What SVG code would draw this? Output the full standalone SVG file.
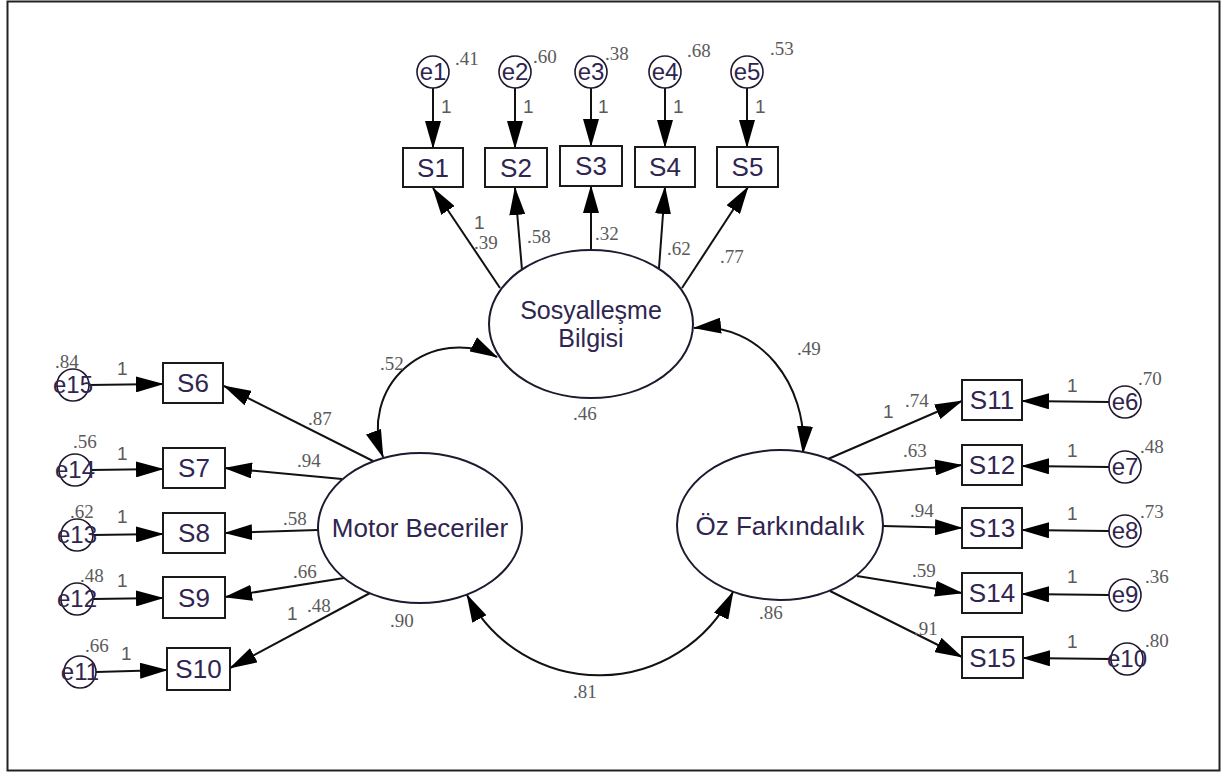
<svg xmlns="http://www.w3.org/2000/svg" width="1226" height="776" viewBox="0 0 1226 776">
<style>
.frame{fill:#fff;stroke:#222;stroke-width:2}
.box{fill:#fff;stroke:#1a1a1a;stroke-width:2}
.lat{fill:#fff;stroke:#20182e;stroke-width:2}
.err{fill:#fff;stroke:#20182e;stroke-width:1.6}
.nt{font-family:"Liberation Sans",Arial,sans-serif;font-size:26px;fill:#2f2550;text-anchor:middle}
.st{font-family:"Liberation Sans",Arial,sans-serif;font-size:25px;fill:#2f2550;text-anchor:middle}
.et{font-family:"Liberation Sans",Arial,sans-serif;font-size:24px;fill:#2f2550;text-anchor:middle}
.num{font-family:"Liberation Serif","Times New Roman",serif;font-size:19px;fill:#5a5a5a}
.one{font-family:"Liberation Sans",Arial,sans-serif;font-size:19px;fill:#5a5a5a}
.ln{fill:none;stroke:#111;stroke-width:2;marker-end:url(#ah)}
.cov{fill:none;stroke:#111;stroke-width:2;marker-start:url(#ah);marker-end:url(#ah)}
</style>
<defs>
<marker id="ah" markerUnits="userSpaceOnUse" markerWidth="28" markerHeight="16" refX="27" refY="8" orient="auto-start-reverse">
<path d="M0,0 L28,8 L0,16 z" fill="#000"/>
</marker>
</defs>
<rect class="frame" x="7.5" y="1.5" width="1212" height="769"/>

<g id="connectors">
<path class="ln" d="M433 88 L433 148"/>
<path class="ln" d="M515 88 L515 148"/>
<path class="ln" d="M591 88 L591 146"/>
<path class="ln" d="M665 88 L665 147"/>
<path class="ln" d="M747 88 L747 147"/>
<path class="ln" d="M500 288 L433 188"/>
<path class="ln" d="M522 270 L515 188"/>
<path class="ln" d="M591 250 L591 186"/>
<path class="ln" d="M659 268 L665 187"/>
<path class="ln" d="M682 288 L748 187"/>
<path class="ln" d="M89 385 L163 384"/>
<path class="ln" d="M91 470 L163 469"/>
<path class="ln" d="M93 535 L163 534"/>
<path class="ln" d="M93 599 L163 598"/>
<path class="ln" d="M96 672 L167 670"/>
<path class="ln" d="M373 461 L224 386"/>
<path class="ln" d="M342 479 L225 468"/>
<path class="ln" d="M318 530 L225 533"/>
<path class="ln" d="M344 578 L225 597"/>
<path class="ln" d="M370 593 L230 668"/>
<path class="ln" d="M1109 402 L1022 401"/>
<path class="ln" d="M1109 467 L1022 466"/>
<path class="ln" d="M1109 531 L1022 530"/>
<path class="ln" d="M1109 595 L1022 594"/>
<path class="ln" d="M1111 659 L1023 658"/>
<path class="ln" d="M828 459 L962 401"/>
<path class="ln" d="M856 475 L962 465"/>
<path class="ln" d="M883 526 L962 528"/>
<path class="ln" d="M857 576 L962 593"/>
<path class="ln" d="M830 591 L962 657"/>
<path class="cov" d="M497 357 A81 81 0 0 0 383 457"/>
<path class="cov" d="M694 328 C760 322 808 385 803 453"/>
<path class="cov" d="M467 595 A149 149 0 0 0 733 592"/>
</g>

<g id="labels">
<text class="num" x="455" y="65">.41</text>
<text class="num" x="533" y="63">.60</text>
<text class="num" x="605" y="60">.38</text>
<text class="num" x="687" y="57">.68</text>
<text class="num" x="770" y="55">.53</text>
<text class="one" x="441" y="113">1</text>
<text class="one" x="523" y="113">1</text>
<text class="one" x="598" y="113">1</text>
<text class="one" x="673" y="113">1</text>
<text class="one" x="755" y="113">1</text>
<text class="one" x="474" y="229">1</text>
<text class="num" x="474" y="249">.39</text>
<text class="num" x="527" y="243">.58</text>
<text class="num" x="595" y="240">.32</text>
<text class="num" x="667" y="255">.62</text>
<text class="num" x="720" y="263">.77</text>
<text class="num" x="55" y="368">.84</text>
<text class="one" x="117" y="375">1</text>
<text class="num" x="73" y="448">.56</text>
<text class="one" x="117" y="460">1</text>
<text class="num" x="70" y="518">.62</text>
<text class="one" x="117" y="523">1</text>
<text class="num" x="80" y="582">.48</text>
<text class="one" x="117" y="587">1</text>
<text class="num" x="85" y="652">.66</text>
<text class="one" x="121" y="660">1</text>
<text class="num" x="308" y="425">.87</text>
<text class="num" x="297" y="467">.94</text>
<text class="num" x="283" y="525">.58</text>
<text class="num" x="293" y="578">.66</text>
<text class="one" x="287" y="620">1</text>
<text class="num" x="307" y="612">.48</text>
<text class="num" x="390" y="627">.90</text>
<text class="num" x="573" y="420">.46</text>
<text class="num" x="380" y="370">.52</text>
<text class="num" x="797" y="355">.49</text>
<text class="num" x="573" y="698">.81</text>
<text class="num" x="759" y="619">.86</text>
<text class="one" x="1067" y="392">1</text>
<text class="num" x="1138" y="385">.70</text>
<text class="one" x="1067" y="457">1</text>
<text class="num" x="1140" y="453">.48</text>
<text class="one" x="1067" y="520">1</text>
<text class="num" x="1140" y="518">.73</text>
<text class="one" x="1067" y="583">1</text>
<text class="num" x="1145" y="583">.36</text>
<text class="one" x="1067" y="648">1</text>
<text class="num" x="1145" y="647">.80</text>
<text class="one" x="883" y="418">1</text>
<text class="num" x="905" y="407">.74</text>
<text class="num" x="903" y="457">.63</text>
<text class="num" x="910" y="517">.94</text>
<text class="num" x="912" y="577">.59</text>
<text class="num" x="914" y="635">.91</text>
</g>

<g id="e1"><circle class="err" cx="433" cy="72" r="16"/><text class="et" x="433" y="80">e1</text></g>
<g id="e2"><circle class="err" cx="515" cy="72" r="16"/><text class="et" x="515" y="80">e2</text></g>
<g id="e3"><circle class="err" cx="591" cy="72" r="16"/><text class="et" x="591" y="80">e3</text></g>
<g id="e4"><circle class="err" cx="665" cy="72" r="16"/><text class="et" x="665" y="80">e4</text></g>
<g id="e5"><circle class="err" cx="747" cy="72" r="16"/><text class="et" x="747" y="80">e5</text></g>
<g id="e15"><circle class="err" cx="73" cy="385" r="16"/><text class="et" x="73" y="393">e15</text></g>
<g id="e14"><circle class="err" cx="75" cy="470" r="16"/><text class="et" x="75" y="478">e14</text></g>
<g id="e13"><circle class="err" cx="77" cy="535" r="16"/><text class="et" x="77" y="543">e13</text></g>
<g id="e12"><circle class="err" cx="77" cy="599" r="16"/><text class="et" x="77" y="607">e12</text></g>
<g id="e11"><circle class="err" cx="80" cy="672" r="16"/><text class="et" x="80" y="680">e11</text></g>
<g id="e6"><circle class="err" cx="1125" cy="402" r="16"/><text class="et" x="1125" y="410">e6</text></g>
<g id="e7"><circle class="err" cx="1125" cy="467" r="16"/><text class="et" x="1125" y="475">e7</text></g>
<g id="e8"><circle class="err" cx="1125" cy="531" r="16"/><text class="et" x="1125" y="539">e8</text></g>
<g id="e9"><circle class="err" cx="1125" cy="595" r="16"/><text class="et" x="1125" y="603">e9</text></g>
<g id="e10"><circle class="err" cx="1127" cy="659" r="16"/><text class="et" x="1127" y="667">e10</text></g>

<g id="S1"><rect class="box" x="403" y="148" width="60" height="39"/><text class="nt" x="433" y="177">S1</text></g>
<g id="S2"><rect class="box" x="485" y="148" width="62" height="39"/><text class="nt" x="516" y="177">S2</text></g>
<g id="S3"><rect class="box" x="560" y="146" width="62" height="40"/><text class="nt" x="591" y="175">S3</text></g>
<g id="S4"><rect class="box" x="635" y="147" width="60" height="40"/><text class="nt" x="665" y="176">S4</text></g>
<g id="S5"><rect class="box" x="717" y="147" width="61" height="40"/><text class="nt" x="747.5" y="176">S5</text></g>
<g id="S6"><rect class="box" x="163" y="363" width="60" height="40"/><text class="nt" x="193" y="392">S6</text></g>
<g id="S7"><rect class="box" x="163" y="448" width="62" height="40"/><text class="nt" x="194" y="477">S7</text></g>
<g id="S8"><rect class="box" x="163" y="513" width="62" height="40"/><text class="nt" x="194" y="542">S8</text></g>
<g id="S9"><rect class="box" x="163" y="577" width="62" height="41"/><text class="nt" x="194" y="607">S9</text></g>
<g id="S10"><rect class="box" x="167" y="648" width="63" height="42"/><text class="nt" x="198.5" y="678">S10</text></g>
<g id="S11"><rect class="box" x="962" y="380" width="60" height="40"/><text class="nt" x="992" y="409">S11</text></g>
<g id="S12"><rect class="box" x="962" y="445" width="60" height="40"/><text class="nt" x="992" y="474">S12</text></g>
<g id="S13"><rect class="box" x="962" y="508" width="60" height="40"/><text class="nt" x="992" y="537">S13</text></g>
<g id="S14"><rect class="box" x="962" y="573" width="60" height="40"/><text class="nt" x="992" y="602">S14</text></g>
<g id="S15"><rect class="box" x="962" y="637" width="61" height="41"/><text class="nt" x="992.5" y="667">S15</text></g>

<g id="Sosyalleşme"><ellipse class="lat" cx="591" cy="324" rx="102" ry="74"/><text class="st" x="591" y="319">Sosyalleşme</text><text class="st" x="591" y="347">Bilgisi</text></g>
<g id="Motor"><ellipse class="lat" cx="420" cy="528" rx="102" ry="75"/><text class="nt" x="420" y="537">Motor Beceriler</text></g>
<g id="Oz"><ellipse class="lat" cx="780" cy="525" rx="103" ry="75"/><text class="nt" x="780" y="535">Öz Farkındalık</text></g>
</svg>
